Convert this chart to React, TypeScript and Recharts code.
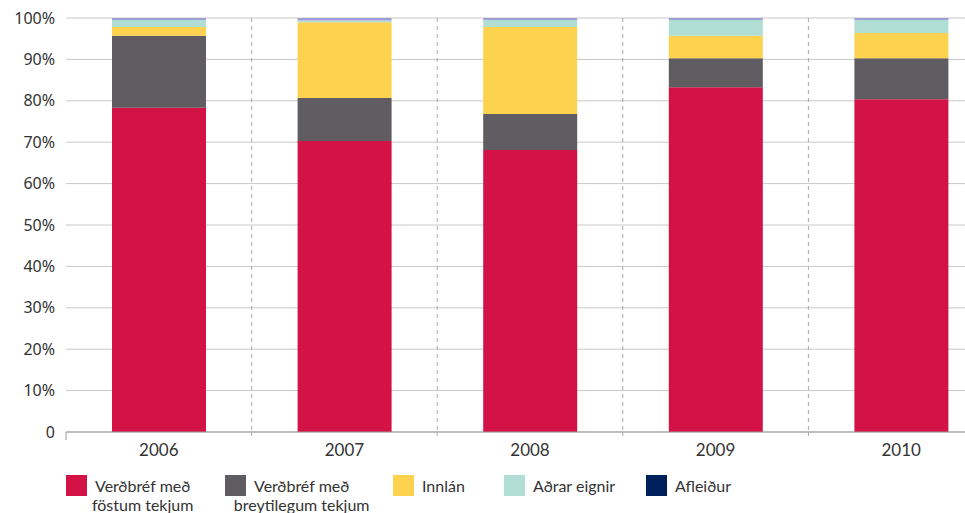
import React from "react";
import {
  BarChart,
  Bar,
  XAxis,
  YAxis,
  CartesianGrid,
} from "recharts";

const years = ["2006", "2007", "2008", "2009", "2010"];
const fixedIncome = [78.3, 70.3, 68.1, 83.3, 80.4];
const variableIncome = [17.4, 10.4, 8.7, 7.0, 9.9];
const deposits = [2.1, 18.3, 21.0, 5.4, 6.1];
const otherAssets = [1.7, 0.4, 1.7, 3.8, 3.1];
const derivatives = [0.5, 0.6, 0.5, 0.5, 0.5];
const yTicks = [0, 10, 20, 30, 40, 50, 60, 70, 80, 90, 100];

const series = [
  { key: "fixed", line1: "Verðbréf með", line2: "föstum tekjum", color: "#d31245", barColor: "#d31245", x: 66 },
  { key: "variable", line1: "Verðbréf með", line2: "breytilegum tekjum", color: "#5f5d62", barColor: "#5f5d62", x: 225 },
  { key: "deposits", line1: "Innlán", line2: "", color: "#fdd24e", barColor: "#fdd24e", x: 393 },
  { key: "other", line1: "Aðrar eignir", line2: "", color: "#b1ded4", barColor: "#b1ded4", x: 504 },
  { key: "derivatives", line1: "Afleiður", line2: "", color: "#00205b", barColor: "#9d9fd4", x: 646 },
];

const data = years.map((year, i) => ({
  year,
  fixed: fixedIncome[i],
  variable: variableIncome[i],
  deposits: deposits[i],
  other: otherAssets[i],
  derivatives: derivatives[i],
}));

const narrowFont = "Lato, sans-serif";
const TICK_MARGIN = 6;

// category label plus a short mark at the left boundary of each category
function YearTick(props: any) {
  const { x, y, payload, index, width, visibleTicksCount } = props;
  const step = width / visibleTicksCount;
  const bx = x - step / 2;
  const axisY = y - TICK_MARGIN - 6;
  return (
    <g>
      <line
        x1={bx}
        x2={bx}
        y1={axisY}
        y2={axisY + 8}
        stroke={index === 0 ? "#999" : "#aaa"}
        strokeDasharray={index === 0 ? undefined : "4 4"}
      />
      <text
        x={x}
        y={y}
        dy="0.71em"
        textAnchor="middle"
        fill="#333"
        fontSize={17}
        fontFamily={narrowFont}
      >
        {payload.value}
      </text>
    </g>
  );
}

function LegendBlock() {
  return (
    <div style={{ position: "absolute", left: 0, top: 0, width: 965, height: 513, pointerEvents: "none" }}>
      {series.map((s) => (
        <div key={s.key}>
          <div
            style={{
              position: "absolute",
              left: s.x,
              top: 475,
              width: 21,
              height: 21,
              background: s.color,
            }}
          />
          <div
            style={{
              position: "absolute",
              left: s.x + 29,
              top: 476,
              fontFamily: narrowFont,
              fontSize: 16,
              lineHeight: "20px",
              color: "#333",
              whiteSpace: "nowrap",
            }}
          >
            <span>{s.line1}</span>
            {s.line2 && (
              <span
                style={{
                  position: "absolute",
                  left: "50%",
                  top: 19,
                  transform: "translateX(-50%)",
                }}
              >
                {s.line2}
              </span>
            )}
          </div>
        </div>
      ))}
    </div>
  );
}

export default function App() {
  return (
    <div
      style={{
        position: "absolute",
        left: 0,
        top: 0,
        width: 965,
        height: 513,
        overflow: "hidden",
        background: "#fff",
      }}
    >
      <BarChart
        width={994}
        height={513}
        data={data}
        margin={{ top: 18, right: 0, bottom: 51, left: 0 }}
      >
        <CartesianGrid vertical={false} stroke="#c8c8c8" />
        <CartesianGrid
          horizontal={false}
          stroke="#aaa"
          strokeDasharray="4 4"
          verticalCoordinatesGenerator={({ offset }: any) =>
            years.slice(1).map((_, i) => offset.left + ((i + 1) * offset.width) / years.length)
          }
        />
        <XAxis
          dataKey="year"
          height={30}
          axisLine={{ stroke: "#999" }}
          tickLine={false}
          tickMargin={TICK_MARGIN}
          tick={<YearTick />}
        />
        <YAxis
          width={66}
          domain={[0, 100]}
          ticks={yTicks}
          axisLine={false}
          tickLine={false}
          tickMargin={5}
          tickFormatter={(v) => (v === 0 ? "0" : `${v}%`)}
          tick={{ fontSize: 16, fill: "#333", fontFamily: "'Noto Sans', sans-serif" }}
        />
        {series.map((s) => (
          <Bar
            key={s.key}
            dataKey={s.key}
            name={s.line1 + " " + s.line2}
            stackId="a"
            fill={s.barColor}
            barSize={94}
            isAnimationActive={false}
          />
        ))}
      </BarChart>
      <LegendBlock />
    </div>
  );
}
